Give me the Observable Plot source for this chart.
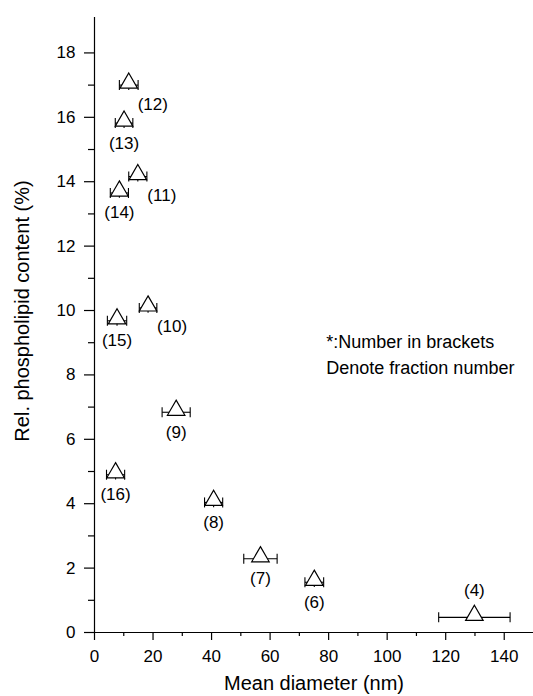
<!DOCTYPE html>
<html>
<head>
<meta charset="utf-8">
<script src="https://cdn.jsdelivr.net/npm/d3@7"></script>
<script src="https://cdn.jsdelivr.net/npm/@observablehq/plot@0.6"></script>
<style>
  html, body { margin: 0; padding: 0; background: #fff; }
  #chart svg { display: block; }
</style>
</head>
<body>
<div id="chart"></div>
<script>
// Fraction labels, mean diameter (nm), relative phospholipid content (%)
const fractions    = ["(12)", "(13)", "(11)", "(14)", "(15)", "(10)", "(9)", "(16)", "(8)", "(7)", "(6)", "(4)"];
const diameter     = [11.7, 10.1, 14.8, 8.5, 7.7, 18.3, 27.9, 7.2, 40.7, 56.7, 75.1, 129.8];
const content      = [17.0, 15.82, 14.16, 13.65, 9.68, 10.08, 6.84, 4.9, 4.04, 2.29, 1.56, 0.47];
const diameterErr  = [3.2, 3.0, 3.1, 3.1, 3.3, 3.0, 4.8, 3.1, 3.1, 5.7, 3.2, 12.2];
const contentErr   = [0.15, 0.15, 0.15, 0.15, 0.15, 0.15, 0, 0.15, 0.15, 0, 0.15, 0];
const labelSide    = ["right", "below", "right", "below", "below", "right", "below", "below", "below", "below", "below", "above"];

const yMajor = [0, 2, 4, 6, 8, 10, 12, 14, 16, 18];
const yMinor = [1, 3, 5, 7, 9, 11, 13, 15, 17];
const xMajor = [0, 20, 40, 60, 80, 100, 120, 140];
const xMinor = [10, 30, 50, 70, 90, 110, 130];
const note = ["*:Number in brackets", "Denote fraction number"];

const data = fractions.map((f, i) => ({
  label: f, x: diameter[i], y: content[i],
  xe: diameterErr[i], ye: contentErr[i], side: labelSide[i]
}));

// vertical cap symbol for error bars
const capSymbol = {
  draw(context) { context.moveTo(0, -5); context.lineTo(0, 5); }
};

const font = "'Liberation Sans', Arial, Helvetica, sans-serif";

const chart = Plot.plot({
  width: 533,
  height: 696,
  marginLeft: 94,
  marginRight: 0,
  marginTop: 17,
  marginBottom: 64,
  style: { fontFamily: font, fontSize: "17px", color: "black", background: "white" },
  x: { domain: [0, 150] },
  y: { domain: [0, 19.1] },
  marks: [
    Plot.axisY(yMajor, { tickSize: 10, tickPadding: 9, label: null, fontSize: 17, strokeWidth: 1.2 }),
    Plot.axisY(yMinor, { tickSize: 6, text: null, label: null, strokeWidth: 1.2 }),
    Plot.axisX(xMajor, { tickSize: 8, tickPadding: 9, label: null, fontSize: 17, strokeWidth: 1.2 }),
    Plot.axisX(xMinor, { tickSize: 4, text: null, label: null, strokeWidth: 1.2 }),
    Plot.ruleX([0], { stroke: "black", strokeWidth: 1.2 }),
    Plot.ruleY([0], { stroke: "black", strokeWidth: 1.2 }),
    // error bars
    Plot.link(data, { x1: d => d.x - d.xe, x2: d => d.x + d.xe, y1: "y", y2: "y", stroke: "black", strokeWidth: 1.1 }),
    Plot.link(data.filter(d => d.ye > 0), { x1: "x", x2: "x", y1: d => d.y - d.ye, y2: d => d.y + d.ye, stroke: "black", strokeWidth: 1.1 }),
    Plot.dot(data, { x: d => d.x - d.xe, y: "y", symbol: capSymbol, stroke: "black", strokeWidth: 1.1 }),
    Plot.dot(data, { x: d => d.x + d.xe, y: "y", symbol: capSymbol, stroke: "black", strokeWidth: 1.1 }),
    // triangles
    Plot.dot(data, { x: "x", y: "y", symbol: "triangle", r: 6.5, dy: -2, fill: "white", stroke: "black", strokeWidth: 1.2 }),
    // fraction labels
    Plot.text(data.filter(d => d.side === "below"), { x: "x", y: "y", text: "label", dy: 20, fontSize: 17, fill: "black" }),
    Plot.text(data.filter(d => d.side === "right"), { x: "x", y: "y", text: "label", dx: 24, dy: 19, fontSize: 17, fill: "black" }),
    Plot.text(data.filter(d => d.side === "above"), { x: "x", y: "y", text: "label", dy: -27, fontSize: 17, fill: "black" }),
    // note
    Plot.text([note.join("\n")], { x: 79.2, y: 8.7, text: d => d, textAnchor: "start", lineAnchor: "middle", lineHeight: 1.5, fontSize: 18, fill: "black" }),
    // axis titles
    Plot.text(["Mean diameter (nm)"], { frameAnchor: "bottom", text: d => d, textAnchor: "middle", dy: 57, fontSize: 20, fill: "black" }),
    Plot.text(["Rel. phospholipid content (%)"], { frameAnchor: "left", text: d => d, textAnchor: "middle", rotate: -90, dx: -72, dy: -14, fontSize: 20, fill: "black" })
  ]
});

document.getElementById("chart").appendChild(chart);
</script>
</body>
</html>
